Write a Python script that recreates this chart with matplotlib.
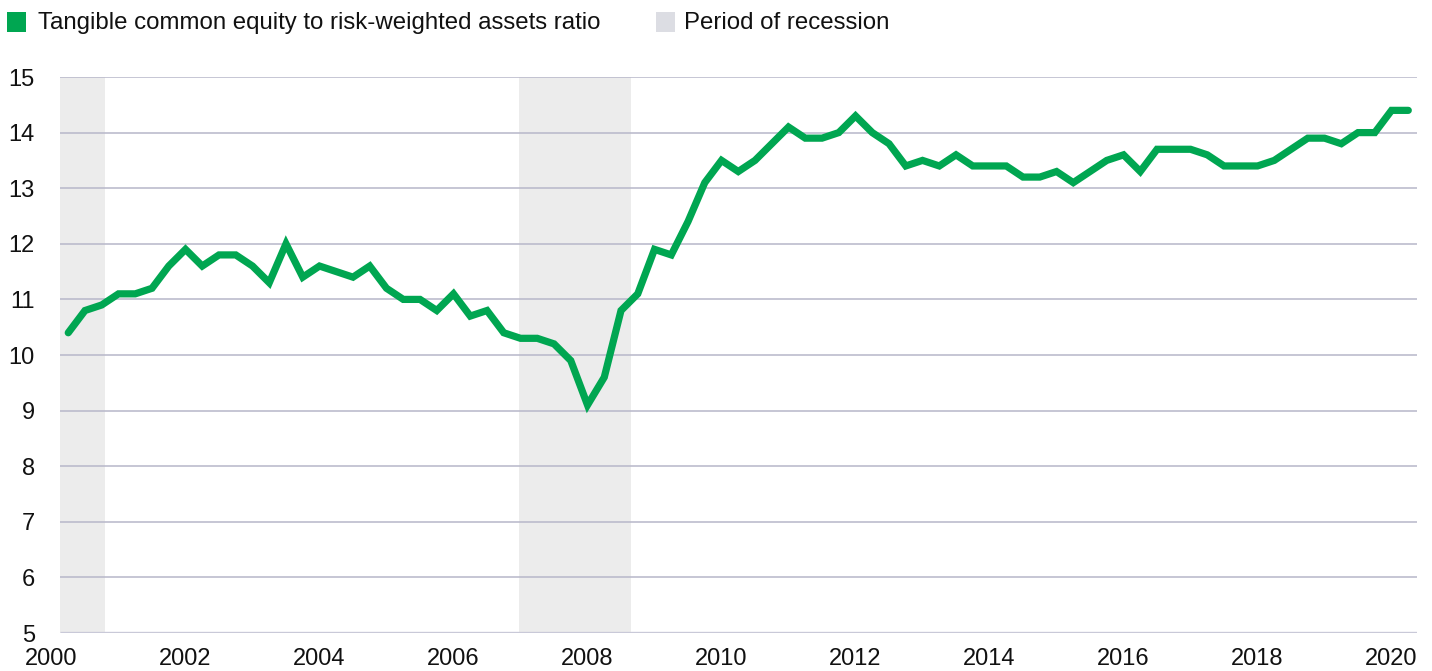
import numpy as np
import matplotlib.pyplot as plt
from matplotlib.patches import Rectangle

plt.rcParams['font.family'] = ['Liberation Sans', 'DejaVu Sans']

# quarterly ratio, 2000Q1 .. 2020Q1 (plotted at quarter end)
ratio = [10.4, 10.8, 10.9, 11.1, 11.1, 11.2, 11.6, 11.9, 11.6, 11.8,
         11.8, 11.6, 11.3, 12.0, 11.4, 11.6, 11.5, 11.4, 11.6, 11.2,
         11.0, 11.0, 10.8, 11.1, 10.7, 10.8, 10.4, 10.3, 10.3, 10.2,
         9.9, 9.1, 9.6, 10.8, 11.1, 11.9, 11.8, 12.4, 13.1, 13.5,
         13.3, 13.5, 13.8, 14.1, 13.9, 13.9, 14.0, 14.3, 14.0, 13.8,
         13.4, 13.5, 13.4, 13.6, 13.4, 13.4, 13.4, 13.2, 13.2, 13.3,
         13.1, 13.3, 13.5, 13.6, 13.3, 13.7, 13.7, 13.7, 13.6, 13.4,
         13.4, 13.4, 13.5, 13.7, 13.9, 13.9, 13.8, 14.0, 14.0, 14.4,
         14.4]
start_year = 2000
recessions = [(2000.13, 2000.80), (2006.97, 2008.65)]
year_ticks = list(range(2000, 2021, 2))
y_ticks = list(range(5, 16))

green = '#00a651'
span_gray = '#ececec'
grid_col = '#b7b7c9'

x = start_year + (np.arange(len(ratio)) + 1) / 4.0
x_left, x_right = 2000.13, 2020.38

W, H = 1432, 671
fig = plt.figure(figsize=(W / 100, H / 100), dpi=100)
ax = fig.add_axes([51.5 / W, 1 - 633 / H, (1417 - 51.5) / W, (633 - 77) / H])

for a, b in recessions:
    ax.axvspan(a, b, color=span_gray, lw=0, zorder=0)

ax.hlines(y_ticks[1:], x_left, x_right, color=grid_col, lw=1.1, zorder=1)
ax.hlines(y_ticks[0], x_left, x_right, color='#c9c9d8', lw=2.4, zorder=1)

ax.plot(x, ratio, color=green, lw=5.2, solid_capstyle='round',
        solid_joinstyle='miter', zorder=3)

ax.set_xlim(2000, x_right)
ax.set_ylim(5, 15)
ax.set_xticks(year_ticks)
ax.set_yticks(y_ticks)
ax.tick_params(axis='both', length=0, labelsize=17, colors='#111111')
ax.tick_params(axis='x', pad=11)
ax.tick_params(axis='y', pad=12)
for s in ax.spines.values():
    s.set_visible(False)

# legend at top
fig.add_artist(Rectangle((7 / W, 1 - 32 / H), 19 / W, 20 / H,
                         transform=fig.transFigure, color=green, lw=0))
fig.text(38 / W, 1 - 29 / H, 'Tangible common equity to risk-weighted assets ratio',
         fontsize=17.3, va='baseline', ha='left', color='#111111')
fig.add_artist(Rectangle((656 / W, 1 - 32 / H), 19 / W, 20 / H,
                         transform=fig.transFigure, color='#dcdde3', lw=0))
fig.text(684 / W, 1 - 29 / H, 'Period of recession',
         fontsize=17.3, va='baseline', ha='left', color='#111111')

fig.savefig('out.png', dpi=100)
